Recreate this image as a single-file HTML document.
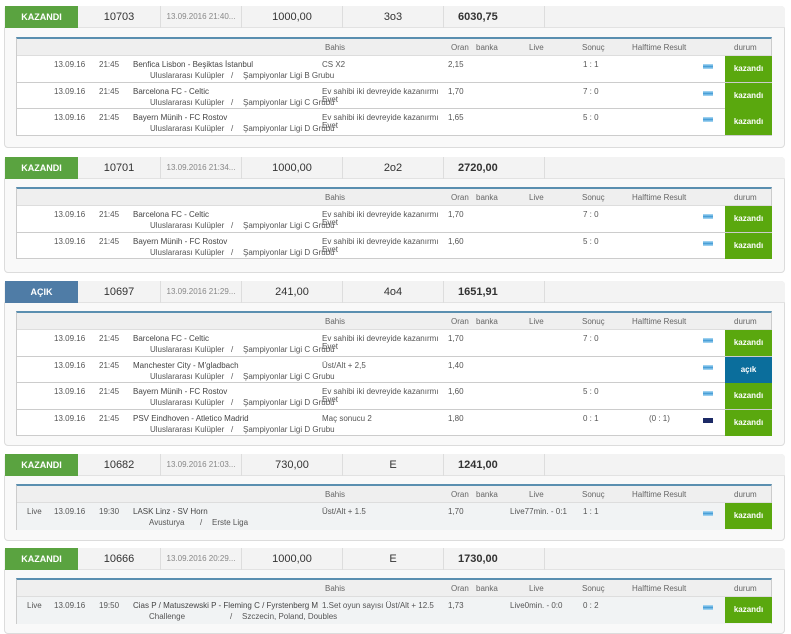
<!DOCTYPE html>
<html><head><meta charset="utf-8"><style>
*{margin:0;padding:0;box-sizing:border-box}
body{width:791px;height:634px;background:#fff;font-family:"Liberation Sans",sans-serif;position:relative;overflow:hidden;color:#555}
.a{position:absolute;white-space:nowrap}
.panel{position:absolute;left:4px;width:781px;border:1px solid #dcdcdc;border-radius:4px;background:#f9f9f9}
.hbar{position:absolute;left:4px;width:781px;height:22px;background:#f3f3f3;border-bottom:1px solid #e2e2e2;border-radius:4px 4px 0 0}
.hc{position:absolute;top:0;height:22px;line-height:22px;text-align:center;font-size:11px;color:#333;border-right:1px solid #ddd}
.st{position:absolute;left:5px;width:73px;height:22px;line-height:22px;text-align:center;color:#fff;font-weight:bold;font-size:9px}
.tbl{position:absolute;left:16px;width:756px;border:1px solid #ccc;border-top:2px solid #5a8fb0;background:#fff}
.th{position:absolute;left:0;width:754px;height:17px;background:#efefef;border-bottom:1px solid #ddd;font-size:8px;color:#666}
.row{position:absolute;left:0;width:754px;border-bottom:1px solid #ccc;font-size:8px;color:#555}
.row.last{border-bottom:none}
.row .a{font-size:8px}
.cell{position:absolute;left:708px;width:47px;color:#fff;font-weight:bold;font-size:8px;text-align:center}
.flag{position:absolute;left:686px;width:10px;height:5px;background:linear-gradient(#9cd0ef 0 33%,#4aa0d8 33% 66%,#9cd0ef 66%)}
</style></head><body>
<div id="root"></div>
<script>
var blocks=[
{top:6,bot:148,st:"KAZANDI",sc:"#5aa340",id:"10703",d:"13.09.2016 21:40...",s:"1000,00",t:"3o3",w:"6030,75",tt:37,rows:[
["","13.09.16","21:45","Benfica Lisbon - Beşiktas İstanbul","Uluslararası Kulüpler","Şampiyonlar Ligi B Grubu","CS X2","","2,15","","1 : 1","","k",0],
["","13.09.16","21:45","Barcelona FC - Celtic","Uluslararası Kulüpler","Şampiyonlar Ligi C Grubu","Ev sahibi iki devreyide kazanırmı","Evet","1,70","","7 : 0","","k",0],
["","13.09.16","21:45","Bayern Münih - FC Rostov","Uluslararası Kulüpler","Şampiyonlar Ligi D Grubu","Ev sahibi iki devreyide kazanırmı","Evet","1,65","","5 : 0","","k",0]]},
{top:157,bot:273,st:"KAZANDI",sc:"#5aa340",id:"10701",d:"13.09.2016 21:34...",s:"1000,00",t:"2o2",w:"2720,00",tt:187,rows:[
["","13.09.16","21:45","Barcelona FC - Celtic","Uluslararası Kulüpler","Şampiyonlar Ligi C Grubu","Ev sahibi iki devreyide kazanırmı","Evet","1,70","","7 : 0","","k",0],
["","13.09.16","21:45","Bayern Münih - FC Rostov","Uluslararası Kulüpler","Şampiyonlar Ligi D Grubu","Ev sahibi iki devreyide kazanırmı","Evet","1,60","","5 : 0","","k",0]]},
{top:281,bot:446,st:"AÇIK",sc:"#4f7ca6",id:"10697",d:"13.09.2016 21:29...",s:"241,00",t:"4o4",w:"1651,91",tt:311,rows:[
["","13.09.16","21:45","Barcelona FC - Celtic","Uluslararası Kulüpler","Şampiyonlar Ligi C Grubu","Ev sahibi iki devreyide kazanırmı","Evet","1,70","","7 : 0","","k",0],
["","13.09.16","21:45","Manchester City - M'gladbach","Uluslararası Kulüpler","Şampiyonlar Ligi C Grubu","Üst/Alt + 2,5","","1,40","","","","a",0],
["","13.09.16","21:45","Bayern Münih - FC Rostov","Uluslararası Kulüpler","Şampiyonlar Ligi D Grubu","Ev sahibi iki devreyide kazanırmı","Evet","1,60","","5 : 0","","k",0],
["","13.09.16","21:45","PSV Eindhoven - Atletico Madrid","Uluslararası Kulüpler","Şampiyonlar Ligi D Grubu","Maç sonucu  2","","1,80","","0 : 1","(0 : 1)","k",1]]},
{top:454,bot:541,st:"KAZANDI",sc:"#5aa340",id:"10682",d:"13.09.2016 21:03...",s:"730,00",t:"E",w:"1241,00",tt:484,rows:[
["Live","13.09.16","19:30","LASK Linz - SV Horn","Avusturya","Erste Liga","Üst/Alt + 1.5","","1,70","Live77min. - 0:1","1 : 1","","k",0]]},
{top:548,bot:634,st:"KAZANDI",sc:"#5aa340",id:"10666",d:"13.09.2016 20:29...",s:"1000,00",t:"E",w:"1730,00",tt:578,rows:[
["Live","13.09.16","19:50","Cias P / Matuszewski P - Fleming C / Fyrstenberg M","Challenge","Szczecin, Poland, Doubles","1.Set oyun sayısı Üst/Alt + 12.5","","1,73","Live0min. - 0:0","0 : 2","","k",0]]}];
var h="";
blocks.forEach(function(b){
 h+='<div class="panel" style="top:'+b.top+'px;height:'+(b.bot-b.top)+'px"></div>';
 h+='<div class="hbar" style="top:'+b.top+'px"></div>';
 h+='<div class="st" style="top:'+b.top+'px;background:'+b.sc+'">'+b.st+'</div>';
 var cols=[[78,161,b.id,11],[161,242,b.d,8],[242,343,b.s,11],[343,444,b.t,11],[444,545,b.w,11]];
 cols.forEach(function(c,i){h+='<div class="hc" style="top:'+b.top+'px;left:'+c[0]+'px;width:'+(c[1]-c[0])+'px;font-size:'+c[3]+'px;'+(i==1?'color:#888;':'')+(i==4?'text-align:left;padding-left:14px;font-weight:bold;':'')+'">'+c[2]+'</div>';});
 var n=b.rows.length, tH=18+n*26.6;
 h+='<div class="tbl" style="top:'+b.tt+'px;height:'+(tH+1)+'px">';
 h+='<div class="th" style="top:0"><span class="a" style="left:308px;top:4px">Bahis</span><span class="a" style="left:434px;top:4px">Oran</span><span class="a" style="left:459px;top:4px">banka</span><span class="a" style="left:512px;top:4px">Live</span><span class="a" style="left:565px;top:4px">Sonuç</span><span class="a" style="left:615px;top:4px">Halftime Result</span><span class="a" style="left:717px;top:4px">durum</span></div>';
 b.rows.forEach(function(r,i){
  var top=17+i*26.6, live=r[0]!="";
  h+='<div class="row'+(i==n-1?' last':'')+'" style="top:'+top+'px;height:26.6px;'+(live?'background:#f1f3f4;':'')+'">';
  if(live)h+='<span class="a" style="left:10px;top:4px">Live</span>';
  h+='<span class="a" style="left:37px;top:4px">'+r[1]+'</span><span class="a" style="left:82px;top:4px">'+r[2]+'</span><span class="a" style="left:116px;top:4px;color:#444">'+r[3]+'</span>';
  var sx=133, s1=sx+81, s2=sx+93;
  if(r[4]=="Avusturya"){sx=132;s1=183;s2=195;}
  if(r[4]=="Challenge"){sx=132;s1=213;s2=225;}
  h+='<span class="a" style="left:'+sx+'px;top:15px">'+r[4]+'</span><span class="a" style="left:'+s1+'px;top:15px">/</span><span class="a" style="left:'+s2+'px;top:15px">'+r[5]+'</span>';
  h+='<span class="a" style="left:305px;top:4px">'+r[6]+'</span>';
  if(r[7])h+='<span class="a" style="left:305px;top:12px">'+r[7]+'</span>';
  h+='<span class="a" style="left:431px;top:4px">'+r[8]+'</span>';
  if(r[9])h+='<span class="a" style="left:493px;top:4px">'+r[9]+'</span>';
  h+='<span class="a" style="left:566px;top:4px">'+r[10]+'</span>';
  if(r[11])h+='<span class="a" style="left:632px;top:4px">'+r[11]+'</span>';
  h+='<div class="flag" style="top:8px;'+(r[13]?'background:#1c2a66;':'')+'"></div>';
  h+='<div class="cell" style="top:0;height:26px;line-height:26px;background:'+(r[12]=="a"?'#0b6e9c':'#5aa80e')+'">'+(r[12]=="a"?'açık':'kazandı')+'</div>';
  h+='</div>';
 });
 h+='</div>';
});
document.getElementById("root").innerHTML=h;
</script>
</body></html>
